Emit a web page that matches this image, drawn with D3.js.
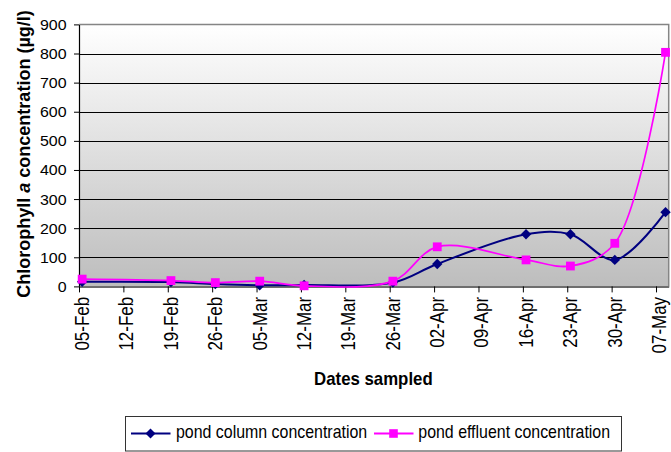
<!DOCTYPE html>
<html>
<head>
<meta charset="utf-8">
<script src="https://cdn.jsdelivr.net/npm/d3@7"></script>
<style>
  html, body { margin: 0; padding: 0; background: #ffffff; }
  svg { display: block; font-family: "Liberation Sans", Arial, sans-serif; }
</style>
</head>
<body>
<svg id="chart" width="671" height="452"></svg>
<script>
// Sampling dates (day-month) and chlorophyll a concentrations (µg/l)
const sampleDates = ["05-Feb", "19-Feb", "26-Feb", "05-Mar", "12-Mar", "26-Mar",
                     "02-Apr", "16-Apr", "23-Apr", "30-Apr", "08-May"];
const pondColumn   = [16, 15, 8, 4, 5, 13, 77, 179, 179, 91, 255];
const pondEffluent = [25, 20, 13, 18, 2, 18, 136, 91, 70, 148, 804];

// Weekly date ticks and value ticks
const xTickLabels = ["05-Feb", "12-Feb", "19-Feb", "26-Feb", "05-Mar", "12-Mar", "19-Mar",
                     "26-Mar", "02-Apr", "09-Apr", "16-Apr", "23-Apr", "30-Apr", "07-May"];
const yTicks = [0, 100, 200, 300, 400, 500, 600, 700, 800, 900];
const yGrid = [100, 200, 300, 400, 500, 600, 700, 800];

const seriesNames  = ["pond column concentration", "pond effluent concentration"];
const seriesColors = ["#000080", "#ff00ff"];

const YEAR = 2005;
const parseDay = s => d3.utcParse("%d-%b-%Y")(s + "-" + YEAR);

const svg = d3.select("#chart");
const margin = { left: 79, right: 2.3, top: 24.4, bottom: 165.6 };
const W = 671, H = 452;
const x0 = margin.left, x1 = W - margin.right;
const y0 = H - margin.bottom, y1 = margin.top;

const dates = sampleDates.map(parseDay);
const x = d3.scaleUtc()
  .domain([parseDay(xTickLabels[0]), d3.utcDay.offset(dates[dates.length - 1], 1)])
  .range([x0, x1]);
const y = d3.scaleLinear().domain([0, 900]).range([y0, y1]);
// each sample sits in the middle of its day
const xMid = d => x(d3.utcHour.offset(d, 12));

// plot area background
const defs = svg.append("defs");
const grad = defs.append("linearGradient").attr("id", "bg")
  .attr("x1", 0).attr("y1", 0).attr("x2", 0).attr("y2", 1);
grad.append("stop").attr("offset", "0%").attr("stop-color", "#ffffff");
grad.append("stop").attr("offset", "100%").attr("stop-color", "#bdbdbd");

svg.append("rect")
  .attr("x", x0).attr("y", y1).attr("width", x1 - x0).attr("height", y0 - y1)
  .attr("fill", "url(#bg)");

// gridlines
svg.append("g").selectAll("line").data(yGrid).join("line")
  .attr("x1", x0).attr("x2", x1)
  .attr("y1", d => Math.round(y(d)) + 0.5).attr("y2", d => Math.round(y(d)) + 0.5)
  .attr("stroke", "#000").attr("stroke-width", 1);

// top and right border
svg.append("path")
  .attr("d", `M${x0},${y1}H${x1}V${y0}`)
  .attr("fill", "none").attr("stroke", "#858585").attr("stroke-width", 1.5);

// y axis
const yAxis = svg.append("g")
  .attr("transform", `translate(${x0},0)`)
  .call(d3.axisLeft(y).tickValues(yTicks).tickSize(5).tickSizeOuter(0).tickFormat(d3.format("d")));
yAxis.select(".domain").attr("stroke", "#000").attr("stroke-width", 1.2);
yAxis.selectAll(".tick line").attr("stroke", "#000");
yAxis.selectAll(".tick text")
  .attr("x", 0).attr("dy", null).attr("y", 0)
  .attr("transform", "translate(-12.5,5) scale(1.14,1)")
  .attr("font-size", 14).attr("fill", "#000").attr("text-anchor", "end");

// x axis
const xAxis = svg.append("g")
  .attr("transform", `translate(0,${y0})`)
  .call(d3.axisBottom(x).tickValues(xTickLabels.map(parseDay)).tickSize(6).tickSizeOuter(0)
    .tickFormat((d, i) => xTickLabels[i]));
xAxis.select(".domain").attr("stroke", "#6e6e6e").attr("stroke-width", 2);
xAxis.selectAll(".tick line").attr("stroke", "#000");
xAxis.selectAll(".tick text")
  .attr("x", 0).attr("y", 0).attr("dy", null)
  .attr("text-anchor", "end")
  .attr("transform", "rotate(-90) translate(-10.5,9.5) scale(0.87,1)")
  .attr("font-size", 19.5).attr("fill", "#000");

// axis titles
const yTitle = svg.append("text")
  .attr("transform", `translate(29.5,154) rotate(-90) scale(1.03,1)`)
  .attr("text-anchor", "middle")
  .attr("font-size", 17.5).attr("font-weight", "bold").attr("fill", "#000");
yTitle.append("tspan").text("Chlorophyll ");
yTitle.append("tspan").attr("font-style", "italic").text("a");
yTitle.append("tspan").text(" concentration (µg/l)");

svg.append("text")
  .attr("transform", `translate(${(x0 + x1) / 2 - 0.5},385) scale(0.95,1)`)
  .attr("text-anchor", "middle")
  .attr("font-size", 17.7).attr("font-weight", "bold").attr("fill", "#000")
  .text("Dates sampled");

// series lines and markers (smoothed)
const line = d3.line().curve(d3.curveCatmullRom.alpha(0.5))
  .x(d => xMid(d.date)).y(d => y(d.value));

const colData = dates.map((d, i) => ({ date: d, value: pondColumn[i] }));
const effData = dates.map((d, i) => ({ date: d, value: pondEffluent[i] }));

svg.append("path").datum(colData)
  .attr("d", line).attr("fill", "none")
  .attr("stroke", seriesColors[0]).attr("stroke-width", 2);
svg.append("g").selectAll("path").data(colData).join("path")
  .attr("transform", d => `translate(${xMid(d.date)},${y(d.value)})`)
  .attr("d", "M0,-5.2L5.2,0L0,5.2L-5.2,0Z")
  .attr("fill", seriesColors[0]);

svg.append("path").datum(effData)
  .attr("d", line).attr("fill", "none")
  .attr("stroke", seriesColors[1]).attr("stroke-width", 1.7);
svg.append("g").selectAll("rect").data(effData).join("rect")
  .attr("x", d => xMid(d.date) - 4.4).attr("y", d => y(d.value) - 4.4)
  .attr("width", 8.8).attr("height", 8.8)
  .attr("fill", seriesColors[1]);

// legend
const lg = svg.append("g");
lg.append("rect")
  .attr("x", 125.5).attr("y", 416.5).attr("width", 496).attr("height", 34.5)
  .attr("fill", "#fff").attr("stroke", "#333").attr("stroke-width", 1);

const legendItems = [
  { name: seriesNames[0], color: seriesColors[0], lx: 131, tx: 176, shape: "diamond" },
  { name: seriesNames[1], color: seriesColors[1], lx: 374, tx: 418.3, shape: "square" }
];
legendItems.forEach(it => {
  lg.append("line")
    .attr("x1", it.lx).attr("x2", it.lx + 39.5).attr("y1", 433.5).attr("y2", 433.5)
    .attr("stroke", it.color).attr("stroke-width", 2);
  const cx = it.lx + 19.5;
  if (it.shape === "diamond") {
    lg.append("path").attr("transform", `translate(${cx},433.5)`)
      .attr("d", "M0,-5L5,0L0,5L-5,0Z").attr("fill", it.color);
  } else {
    lg.append("rect").attr("x", cx - 4.3).attr("y", 433.5 - 4.3)
      .attr("width", 8.6).attr("height", 8.6).attr("fill", it.color);
  }
  lg.append("text")
    .attr("transform", `translate(${it.tx},438) scale(0.885,1)`)
    .attr("font-size", 18).attr("fill", "#000")
    .text(it.name);
});
</script>
</body>
</html>
